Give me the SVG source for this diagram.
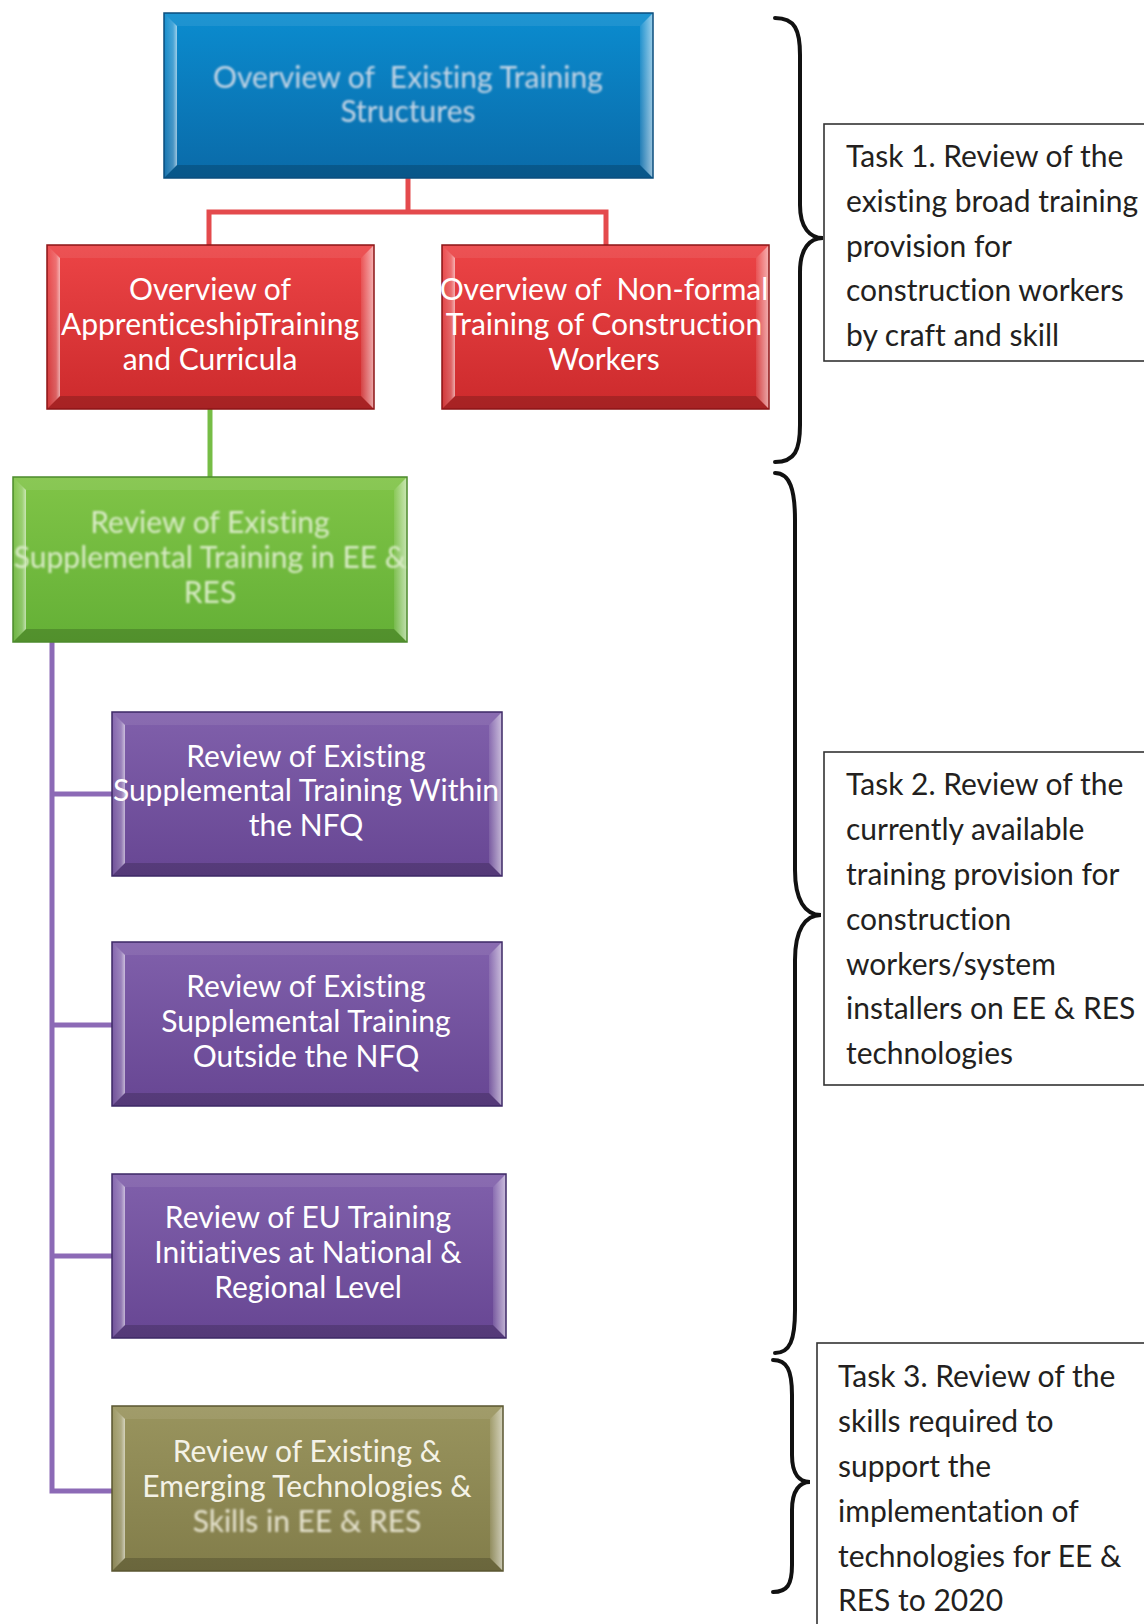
<svg xmlns="http://www.w3.org/2000/svg" width="1144" height="1624" viewBox="0 0 1144 1624">
  <style>
    text { font-variant-ligatures: none; white-space: pre; }
    .node text { font-family: Lato, "Open Sans", "Liberation Sans", sans-serif; font-size: 30px; text-anchor: middle; }
    .task text { font-family: Lato, "Open Sans", "Liberation Sans", sans-serif; font-size: 30px; fill: #231f20; }
    .task rect { fill: #fff; stroke: #333; stroke-width: 1.6; }
    .brace { fill: none; stroke: #111; stroke-width: 4; stroke-linecap: round; }
    .bt { fill: #fff; fill-opacity: 0.08; }
    .bb { fill: #000; fill-opacity: 0.18; }
    .bl { fill: url(#bevL); }
    .br { fill: url(#bevR); }
    .edge { fill: none; stroke-width: 1.5; }
    .conn { fill: none; stroke-width: 5; stroke-linejoin: miter; }
    .hazy { filter: url(#soft); }
  </style>
  <defs>
    <linearGradient id="gBlue" x1="0" y1="0" x2="0" y2="1">
      <stop offset="0" stop-color="#0b8ccf"/><stop offset="1" stop-color="#0a6aa8"/>
    </linearGradient>
    <linearGradient id="gRed" x1="0" y1="0" x2="0" y2="1">
      <stop offset="0" stop-color="#ec4446"/><stop offset="1" stop-color="#cc2a2c"/>
    </linearGradient>
    <linearGradient id="gGreen" x1="0" y1="0" x2="0" y2="1">
      <stop offset="0" stop-color="#80c447"/><stop offset="1" stop-color="#64b036"/>
    </linearGradient>
    <linearGradient id="gPurple" x1="0" y1="0" x2="0" y2="1">
      <stop offset="0" stop-color="#8060ab"/><stop offset="1" stop-color="#674693"/>
    </linearGradient>
    <linearGradient id="gOlive" x1="0" y1="0" x2="0" y2="1">
      <stop offset="0" stop-color="#99945e"/><stop offset="1" stop-color="#827d4a"/>
    </linearGradient>
    <linearGradient id="bevL" x1="0" y1="0" x2="1" y2="0">
      <stop offset="0" stop-color="#fff" stop-opacity="0.05"/>
      <stop offset="0.7" stop-color="#fff" stop-opacity="0.25"/>
      <stop offset="1" stop-color="#fff" stop-opacity="0.6"/>
    </linearGradient>
    <linearGradient id="bevR" x1="0" y1="0" x2="1" y2="0">
      <stop offset="0" stop-color="#fff" stop-opacity="0.1"/>
      <stop offset="1" stop-color="#fff" stop-opacity="0.6"/>
    </linearGradient>
    <filter id="soft" x="-5%" y="-20%" width="110%" height="140%">
      <feGaussianBlur stdDeviation="0.9"/>
    </filter>
  </defs>

  <!-- connectors -->
  <g id="connectors">
    <path class="conn" stroke="#e44a4d" d="M408,178 V212 M209,245 V212 H606 V245"/>
    <path class="conn" stroke="#76bd46" d="M210,409 V477"/>
    <path class="conn" stroke="#8c6ab6" d="M52,642 V1491 H112 M52,794 H112 M52,1025 H112 M52,1256 H112"/>
  </g>

  <!-- top level: blue -->
  <g id="node-existing-structures" class="node">
    <rect x="164" y="13" width="489" height="165" fill="url(#gBlue)"/>
    <polygon class="bt" points="164,13 653,13 640,26 177,26"/>
    <polygon class="bb" points="164,178 653,178 640,165 177,165"/>
    <polygon class="bl" points="164,13 177,26 177,165 164,178"/>
    <polygon class="br" points="640,26 653,13 653,178 640,165"/>
    <rect class="edge" x="164" y="13" width="489" height="165" stroke="#0b4e7e"/>
    <g class="hazy" fill="#c6d6e6">
      <text x="408" y="88">Overview of  Existing Training</text>
      <text x="408" y="122">Structures</text>
    </g>
  </g>

  <!-- second level: red -->
  <g id="node-apprenticeship" class="node">
    <rect x="47" y="245" width="327" height="164" fill="url(#gRed)"/>
    <polygon class="bt" points="47,245 374,245 361,258 60,258"/>
    <polygon class="bb" points="47,409 374,409 361,396 60,396"/>
    <polygon class="bl" points="47,245 60,258 60,396 47,409"/>
    <polygon class="br" points="361,258 374,245 374,409 361,396"/>
    <rect class="edge" x="47" y="245" width="327" height="164" stroke="#8c1416"/>
    <g fill="#fff">
      <text x="210" y="300">Overview of</text>
      <text x="210" y="335">ApprenticeshipTraining</text>
      <text x="210" y="370">and Curricula</text>
    </g>
  </g>

  <g id="node-nonformal" class="node">
    <rect x="442" y="245" width="327" height="164" fill="url(#gRed)"/>
    <polygon class="bt" points="442,245 769,245 756,258 455,258"/>
    <polygon class="bb" points="442,409 769,409 756,396 455,396"/>
    <polygon class="bl" points="442,245 455,258 455,396 442,409"/>
    <polygon class="br" points="756,258 769,245 769,409 756,396"/>
    <rect class="edge" x="442" y="245" width="327" height="164" stroke="#8c1416"/>
    <g fill="#fff">
      <text x="604" y="300">Overview of  Non-formal</text>
      <text x="604" y="335">Training of Construction</text>
      <text x="604" y="370">Workers</text>
    </g>
  </g>

  <!-- third level: green -->
  <g id="node-supplemental-ee-res" class="node">
    <rect x="13" y="477" width="394" height="165" fill="url(#gGreen)"/>
    <polygon class="bt" points="13,477 407,477 394,490 26,490"/>
    <polygon class="bb" points="13,642 407,642 394,629 26,629"/>
    <polygon class="bl" points="13,477 26,490 26,629 13,642"/>
    <polygon class="br" points="394,490 407,477 407,642 394,629"/>
    <rect class="edge" x="13" y="477" width="394" height="165" stroke="#4c8a2c"/>
    <g class="hazy" fill="#d9ecc6">
      <text x="210" y="533">Review of Existing</text>
      <text x="210" y="568">Supplemental Training in EE &amp;</text>
      <text x="210" y="603">RES</text>
    </g>
  </g>

  <!-- fourth level: purple -->
  <g id="node-within-nfq" class="node">
    <rect x="112" y="712" width="390" height="164" fill="url(#gPurple)"/>
    <polygon class="bt" points="112,712 502,712 489,725 125,725"/>
    <polygon class="bb" points="112,876 502,876 489,863 125,863"/>
    <polygon class="bl" points="112,712 125,725 125,863 112,876"/>
    <polygon class="br" points="489,725 502,712 502,876 489,863"/>
    <rect class="edge" x="112" y="712" width="390" height="164" stroke="#3d2866"/>
    <g fill="#fff">
      <text x="306" y="767">Review of Existing</text>
      <text x="306" y="801">Supplemental Training Within</text>
      <text x="306" y="836">the NFQ</text>
    </g>
  </g>

  <g id="node-outside-nfq" class="node">
    <rect x="112" y="942" width="390" height="164" fill="url(#gPurple)"/>
    <polygon class="bt" points="112,942 502,942 489,955 125,955"/>
    <polygon class="bb" points="112,1106 502,1106 489,1093 125,1093"/>
    <polygon class="bl" points="112,942 125,955 125,1093 112,1106"/>
    <polygon class="br" points="489,955 502,942 502,1106 489,1093"/>
    <rect class="edge" x="112" y="942" width="390" height="164" stroke="#3d2866"/>
    <g fill="#fff">
      <text x="306" y="997">Review of Existing</text>
      <text x="306" y="1032">Supplemental Training</text>
      <text x="306" y="1067">Outside the NFQ</text>
    </g>
  </g>

  <g id="node-eu-initiatives" class="node">
    <rect x="112" y="1174" width="394" height="164" fill="url(#gPurple)"/>
    <polygon class="bt" points="112,1174 506,1174 493,1187 125,1187"/>
    <polygon class="bb" points="112,1338 506,1338 493,1325 125,1325"/>
    <polygon class="bl" points="112,1174 125,1187 125,1325 112,1338"/>
    <polygon class="br" points="493,1187 506,1174 506,1338 493,1325"/>
    <rect class="edge" x="112" y="1174" width="394" height="164" stroke="#3d2866"/>
    <g fill="#fff">
      <text x="308" y="1228">Review of EU Training</text>
      <text x="308" y="1263">Initiatives at National &amp;</text>
      <text x="308" y="1298">Regional Level</text>
    </g>
  </g>

  <!-- olive -->
  <g id="node-technologies-skills" class="node">
    <rect x="112" y="1406" width="391" height="165" fill="url(#gOlive)"/>
    <polygon class="bt" points="112,1406 503,1406 490,1419 125,1419"/>
    <polygon class="bb" points="112,1571 503,1571 490,1558 125,1558"/>
    <polygon class="bl" points="112,1406 125,1419 125,1558 112,1571"/>
    <polygon class="br" points="490,1419 503,1406 503,1571 490,1558"/>
    <rect class="edge" x="112" y="1406" width="391" height="165" stroke="#5a5630"/>
    <g fill="#f4f2e6">
      <text x="307" y="1462">Review of Existing &amp;</text>
      <text x="307" y="1497">Emerging Technologies &amp;</text>
    </g>
    <g class="hazy" fill="#e6e3cf">
      <text x="307" y="1532">Skills in EE &amp; RES</text>
    </g>
  </g>

  <!-- braces -->
  <g id="braces">
    <path class="brace" d="M775,18 C795,18 800,30 800,55 L800,205 C800,228 810,238 823,238 C810,238 800,248 800,272 L800,425 C800,450 795,462 775,462"/>
    <path class="brace" d="M775,473 C790,473 795,490 795,520 L795,870 C795,900 805,915 821,915 C805,915 795,930 795,960 L795,1310 C795,1340 790,1353 775,1353"/>
    <path class="brace" d="M773,1360 C787,1360 792,1370 792,1395 L792,1455 C792,1475 800,1482 810,1482 C800,1482 792,1490 792,1510 L792,1565 C792,1585 787,1592 773,1592"/>
  </g>

  <!-- task descriptions -->
  <g id="task-1" class="task">
    <rect x="824" y="124" width="340" height="237"/>
    <text x="846" y="167">Task 1. Review of the</text>
    <text x="846" y="212">existing broad training</text>
    <text x="846" y="257">provision for</text>
    <text x="846" y="301">construction workers</text>
    <text x="846" y="346">by craft and skill</text>
  </g>

  <g id="task-2" class="task">
    <rect x="824" y="752" width="340" height="333"/>
    <text x="846" y="795">Task 2. Review of the</text>
    <text x="846" y="840">currently available</text>
    <text x="846" y="885">training provision for</text>
    <text x="846" y="930">construction</text>
    <text x="846" y="975">workers/system</text>
    <text x="846" y="1019">installers on EE &amp; RES</text>
    <text x="846" y="1064">technologies</text>
  </g>

  <g id="task-3" class="task">
    <rect x="817" y="1343" width="350" height="300"/>
    <text x="838" y="1387">Task 3. Review of the</text>
    <text x="838" y="1432">skills required to</text>
    <text x="838" y="1477">support the</text>
    <text x="838" y="1522">implementation of</text>
    <text x="838" y="1567">technologies for EE &amp;</text>
    <text x="838" y="1611">RES to 2020</text>
  </g>
</svg>
